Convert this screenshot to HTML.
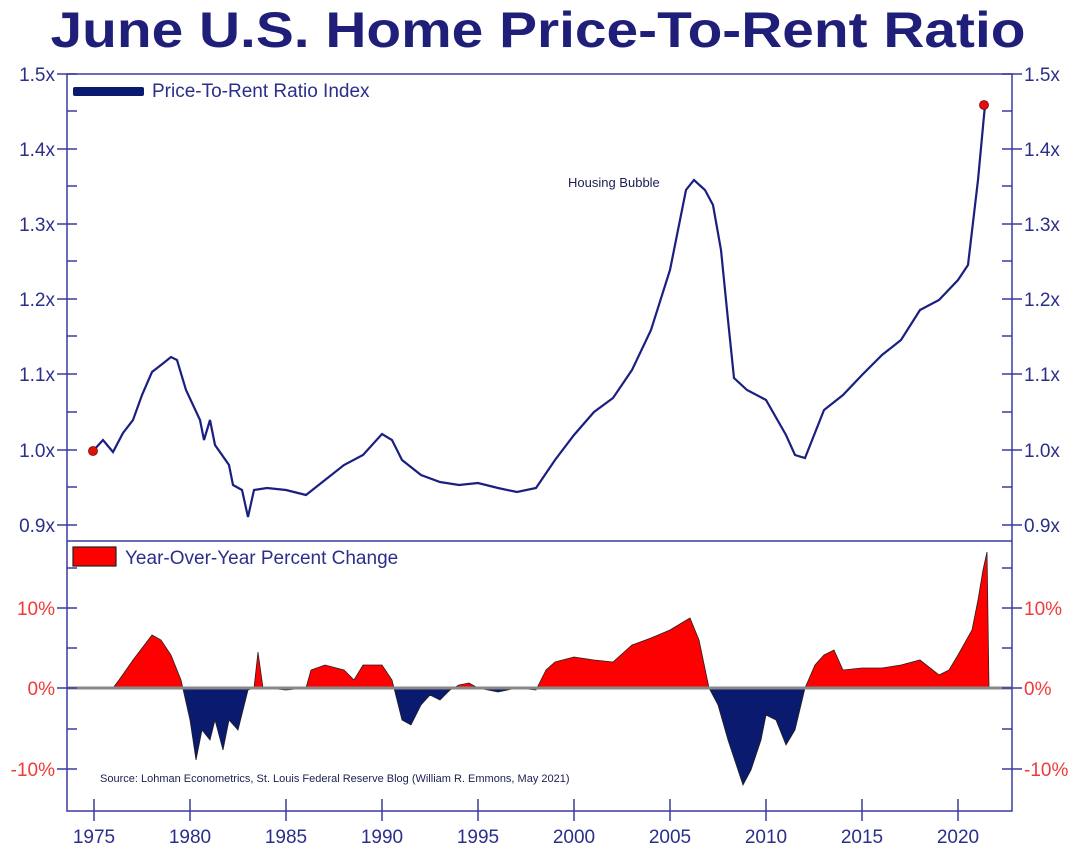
<!DOCTYPE html>
<html><head><meta charset="utf-8"><style>
html,body{margin:0;padding:0;background:#fff;width:1080px;height:854px;overflow:hidden}
svg{display:block}
text{font-family:"Liberation Sans",sans-serif}
</style></head><body>
<svg width="1080" height="854" viewBox="0 0 1080 854" xmlns="http://www.w3.org/2000/svg">
<defs>
<clipPath id="cpos"><rect x="60" y="540" width="960" height="148"/></clipPath>
<clipPath id="cneg"><rect x="60" y="688" width="960" height="130"/></clipPath>
</defs>
<text x="538" y="47" text-anchor="middle" font-size="50" font-weight="bold" fill="#1f1f7a" textLength="975" lengthAdjust="spacingAndGlyphs">June U.S. Home Price-To-Rent Ratio</text>

<!-- YoY area -->
<polygon id="yoy" fill="#ff0000" stroke="#222" stroke-width="0.8" clip-path="url(#cpos)" points="
94,688 113,688 119,680 133,660 152,635 161,640 171,655 181,680 190,720 196,760 202,730 210,740 215,720 223,750 229,720 238,730 248,690 254,688 258,652 263,688 267,688 286,690 306,688 311,670 325,665 344,670 354,680 363,665 382,665 392,680 402,720 411,725 421,705 430,695 440,700 450,690 459,685 469,683 478,688 498,692 517,688 536,690 546,670 555,662 574,657 594,660 613,662 632,645 651,638 670,630 690,618 699,640 709,688 718,705 728,740 743,785 751,770 761,740 766,715 776,720 786,745 795,730 805,688 815,665 824,655 834,650 843,670 862,668 882,668 901,665 920,660 939,675 949,670 958,655 972,630 978,600 983,570 987,552 989,688"/>
<polygon fill="#0a1a6e" stroke="#222" stroke-width="0.8" clip-path="url(#cneg)" points="
94,688 113,688 119,680 133,660 152,635 161,640 171,655 181,680 190,720 196,760 202,730 210,740 215,720 223,750 229,720 238,730 248,690 254,688 258,652 263,688 267,688 286,690 306,688 311,670 325,665 344,670 354,680 363,665 382,665 392,680 402,720 411,725 421,705 430,695 440,700 450,690 459,685 469,683 478,688 498,692 517,688 536,690 546,670 555,662 574,657 594,660 613,662 632,645 651,638 670,630 690,618 699,640 709,688 718,705 728,740 743,785 751,770 761,740 766,715 776,720 786,745 795,730 805,688 815,665 824,655 834,650 843,670 862,668 882,668 901,665 920,660 939,675 949,670 958,655 972,630 978,600 983,570 987,552 989,688"/>
<line x1="68" y1="688" x2="1011" y2="688" stroke="#888" stroke-width="3"/>

<!-- ratio line -->
<polyline fill="none" stroke="#1a1f80" stroke-width="2.2" points="
93,451 103,440 113,452 123,433 133,420 142,395 152,372 161,365 171,357 177,360 186,390 200,420 204,440 210,420 215,445 229,465 233,485 242,490 248,517 254,490 267,488 286,490 306,495 325,480 344,465 363,455 382,434 392,440 402,460 421,475 440,482 459,485 478,483 498,488 517,492 536,488 555,460 574,435 594,412 613,398 632,370 651,330 670,270 686,190 694,180 705,190 713,205 721,250 728,320 734,378 747,390 766,400 786,435 795,455 805,458 824,410 843,395 862,375 882,355 901,340 920,310 939,300 958,280 968,265 978,180 985,105"/>
<circle cx="93" cy="451" r="4.5" fill="#e01010" stroke="#800" stroke-width="0.8"/>
<circle cx="984" cy="105" r="4.5" fill="#e01010" stroke="#800" stroke-width="0.8"/>

<!-- frame -->
<rect x="67" y="74" width="945" height="737" fill="none" stroke="#3a3aa0" stroke-width="1.5"/>
<line x1="67" y1="541" x2="1012" y2="541" stroke="#3a3aa0" stroke-width="1.5"/>

<g stroke="#3a3aa0" stroke-width="1.5">
<!-- upper ticks left/right -->
<line x1="57" y1="74" x2="77" y2="74"/><line x1="1002" y1="74" x2="1022" y2="74"/>
<line x1="57" y1="149" x2="77" y2="149"/><line x1="1002" y1="149" x2="1022" y2="149"/>
<line x1="57" y1="224" x2="77" y2="224"/><line x1="1002" y1="224" x2="1022" y2="224"/>
<line x1="57" y1="299" x2="77" y2="299"/><line x1="1002" y1="299" x2="1022" y2="299"/>
<line x1="57" y1="374" x2="77" y2="374"/><line x1="1002" y1="374" x2="1022" y2="374"/>
<line x1="57" y1="450" x2="77" y2="450"/><line x1="1002" y1="450" x2="1022" y2="450"/>
<line x1="57" y1="525" x2="77" y2="525"/><line x1="1002" y1="525" x2="1022" y2="525"/>
<line x1="67" y1="111" x2="77" y2="111"/><line x1="1002" y1="111" x2="1012" y2="111"/>
<line x1="67" y1="186" x2="77" y2="186"/><line x1="1002" y1="186" x2="1012" y2="186"/>
<line x1="67" y1="261" x2="77" y2="261"/><line x1="1002" y1="261" x2="1012" y2="261"/>
<line x1="67" y1="336" x2="77" y2="336"/><line x1="1002" y1="336" x2="1012" y2="336"/>
<line x1="67" y1="412" x2="77" y2="412"/><line x1="1002" y1="412" x2="1012" y2="412"/>
<line x1="67" y1="487" x2="77" y2="487"/><line x1="1002" y1="487" x2="1012" y2="487"/>
<!-- lower ticks -->
<line x1="57" y1="608" x2="77" y2="608"/><line x1="1002" y1="608" x2="1022" y2="608"/>
<line x1="57" y1="688" x2="77" y2="688"/><line x1="1002" y1="688" x2="1022" y2="688"/>
<line x1="57" y1="769" x2="77" y2="769"/><line x1="1002" y1="769" x2="1022" y2="769"/>
<line x1="67" y1="568" x2="77" y2="568"/><line x1="1002" y1="568" x2="1012" y2="568"/>
<line x1="67" y1="648" x2="77" y2="648"/><line x1="1002" y1="648" x2="1012" y2="648"/>
<line x1="67" y1="729" x2="77" y2="729"/><line x1="1002" y1="729" x2="1012" y2="729"/>
<!-- x ticks -->
<line x1="94" y1="799" x2="94" y2="821"/><line x1="190" y1="799" x2="190" y2="821"/>
<line x1="286" y1="799" x2="286" y2="821"/><line x1="382" y1="799" x2="382" y2="821"/>
<line x1="478" y1="799" x2="478" y2="821"/><line x1="574" y1="799" x2="574" y2="821"/>
<line x1="670" y1="799" x2="670" y2="821"/><line x1="766" y1="799" x2="766" y2="821"/>
<line x1="862" y1="799" x2="862" y2="821"/><line x1="958" y1="799" x2="958" y2="821"/>
</g>

<g font-size="19" fill="#2b2f8a">
<g text-anchor="end">
<text x="55" y="81">1.5x</text><text x="55" y="156">1.4x</text><text x="55" y="231">1.3x</text>
<text x="55" y="306">1.2x</text><text x="55" y="381">1.1x</text><text x="55" y="457">1.0x</text><text x="55" y="532">0.9x</text>
</g>
<text x="1024" y="81">1.5x</text><text x="1024" y="156">1.4x</text><text x="1024" y="231">1.3x</text>
<text x="1024" y="306">1.2x</text><text x="1024" y="381">1.1x</text><text x="1024" y="457">1.0x</text><text x="1024" y="532">0.9x</text>
<g text-anchor="middle">
<text x="94" y="843">1975</text><text x="190" y="843">1980</text><text x="286" y="843">1985</text>
<text x="382" y="843">1990</text><text x="478" y="843">1995</text><text x="574" y="843">2000</text>
<text x="670" y="843">2005</text><text x="766" y="843">2010</text><text x="862" y="843">2015</text><text x="958" y="843">2020</text>
</g>
</g>
<g font-size="19" fill="#f03a3a">
<g text-anchor="end"><text x="55" y="615">10%</text><text x="55" y="695">0%</text><text x="55" y="776">-10%</text></g>
<text x="1024" y="615">10%</text><text x="1024" y="695">0%</text><text x="1024" y="776">-10%</text>
</g>

<!-- legends -->
<rect x="73" y="87" width="71" height="9" rx="2" fill="#0a1a6e"/>
<text x="152" y="97" font-size="19" fill="#2b2f8a">Price-To-Rent Ratio Index</text>
<rect x="73" y="547" width="43" height="19" fill="#ff0000" stroke="#222" stroke-width="1.2"/>
<text x="125" y="564" font-size="19" fill="#2b2f8a">Year-Over-Year Percent Change</text>

<text x="568" y="187" font-size="13" fill="#1a1f50">Housing Bubble</text>
<text x="100" y="782" font-size="11" fill="#1a1f50">Source: Lohman Econometrics, St. Louis Federal Reserve Blog (William R. Emmons, May 2021)</text>
</svg>
</body></html>
